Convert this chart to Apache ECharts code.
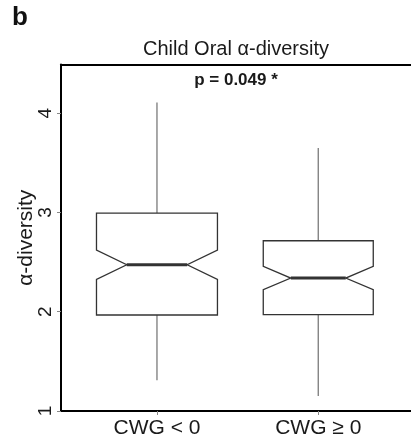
<!DOCTYPE html>
<html>
<head>
<meta charset="utf-8">
<script src="https://cdn.jsdelivr.net/npm/echarts@6/dist/echarts.min.js"></script>
<style>
  html, body { margin: 0; padding: 0; background: #fff; }
  #chart { width: 411px; height: 440px; }
</style>
</head>
<body>
<div id="chart"></div>
<script>
// ---- data ----
const categories  = ['CWG < 0', 'CWG \u2265 0'];
const whiskerLow  = [1.31, 1.15];
const q1          = [1.967, 1.97];
const notchLow    = [2.325, 2.222];
const median      = [2.473, 2.339];
const notchHigh   = [2.621, 2.456];
const q3          = [2.994, 2.715];
const whiskerHigh = [4.107, 3.65];
const yTicks      = [1, 2, 3, 4];
const titleText   = 'Child Oral \u03b1-diversity';
const pText       = 'p = 0.049 *';
const yName       = '\u03b1-diversity';
const panelLabel  = 'b';

// style: half box widths (axis units) per box
const halfWidths = [0.375, 0.341];

const FONT = '"Liberation Sans", Arial, Helvetica, sans-serif';

const seriesData = categories.map((c, i) => [i + 1, whiskerLow[i], q1[i], notchLow[i], median[i], notchHigh[i], q3[i], whiskerHigh[i], i]);

function renderItem(params, api) {
  const x = api.value(0);
  const lo = api.value(1), b1 = api.value(2), nl = api.value(3), md = api.value(4),
        nh = api.value(5), b3 = api.value(6), hi = api.value(7), idx = api.value(8);
  const c = (v) => api.coord([x, v]);
  const cx = c(md)[0];
  const hw = api.size([halfWidths[idx], 0])[0];
  const y = (v) => c(v)[1];
  const boxColor = '#333';
  const whiskColor = '#7a7a7a';
  return {
    type: 'group',
    children: [
      { type: 'line', shape: { x1: cx, y1: y(lo), x2: cx, y2: y(b1) }, style: { stroke: whiskColor, lineWidth: 1.3 } },
      { type: 'line', shape: { x1: cx, y1: y(b3), x2: cx, y2: y(hi) }, style: { stroke: whiskColor, lineWidth: 1.3 } },
      { type: 'polygon', shape: { points: [
          [cx - hw, y(b3)], [cx + hw, y(b3)], [cx + hw, y(nh)], [cx + hw / 2, y(md)],
          [cx + hw, y(nl)], [cx + hw, y(b1)], [cx - hw, y(b1)], [cx - hw, y(nl)],
          [cx - hw / 2, y(md)], [cx - hw, y(nh)]
        ] }, style: { fill: 'none', stroke: boxColor, lineWidth: 1.3 } },
      { type: 'line', shape: { x1: cx - hw / 2, y1: y(md), x2: cx + hw / 2, y2: y(md) }, style: { stroke: boxColor, lineWidth: 3 } }
    ]
  };
}

const chart = echarts.init(document.getElementById('chart'), null, { renderer: 'canvas' });
chart.setOption({
  animation: false,
  backgroundColor: '#fff',
  grid: { left: 61, right: 0, top: 64.5, bottom: 29, containLabel: false },
  xAxis: [{
    type: 'value', min: 0.405, max: 2.575,
    axisLine: { show: true, onZero: false, lineStyle: { color: '#000', width: 2 } },
    axisTick: { show: true, customValues: [1, 2], length: 4, lineStyle: { color: '#888', width: 1 } },
    axisLabel: { customValues: [1, 2], formatter: (v) => categories[Math.round(v) - 1] || '', fontFamily: FONT, fontSize: 21, color: '#1a1a1a', margin: 7 },
    splitLine: { show: false }
  }, {
    type: 'value', min: 0.405, max: 2.575, position: 'top',
    axisLine: { show: true, onZero: false, lineStyle: { color: '#000', width: 2 } },
    axisTick: { show: false }, axisLabel: { show: false }, splitLine: { show: false }
  }],
  yAxis: {
    type: 'value', min: 1, max: 4.49,
    axisLine: { show: true, onZero: false, lineStyle: { color: '#000', width: 2 } },
    axisTick: { show: true, customValues: yTicks, length: 4, lineStyle: { color: '#888', width: 1 } },
    axisLabel: { customValues: yTicks, rotate: 90, fontFamily: FONT, fontSize: 19, color: '#1a1a1a', margin: 6 },
    splitLine: { show: false },
    name: yName, nameLocation: 'middle', nameGap: 24, nameRotate: 90, nameMoveOverlap: false,
    nameTextStyle: { fontFamily: FONT, fontSize: 21, color: '#1a1a1a' }
  },
  graphic: [
    { type: 'text', x: 12, y: 5, style: { text: panelLabel, font: 'bold 26px ' + FONT, fill: '#111' } },
    { type: 'text', x: 236, y: 49, style: { text: titleText, font: '20px ' + FONT, fill: '#1a1a1a', align: 'center', verticalAlign: 'middle' } },
    { type: 'text', x: 236, y: 80, style: { text: pText, font: 'bold 17px ' + FONT, fill: '#1a1a1a', align: 'center', verticalAlign: 'middle' } }
  ],
  series: [{
    type: 'custom',
    renderItem: renderItem,
    encode: { x: 0, y: [1, 2, 3, 4, 5, 6, 7] },
    data: seriesData,
    clip: false
  }]
});
</script>
</body>
</html>
